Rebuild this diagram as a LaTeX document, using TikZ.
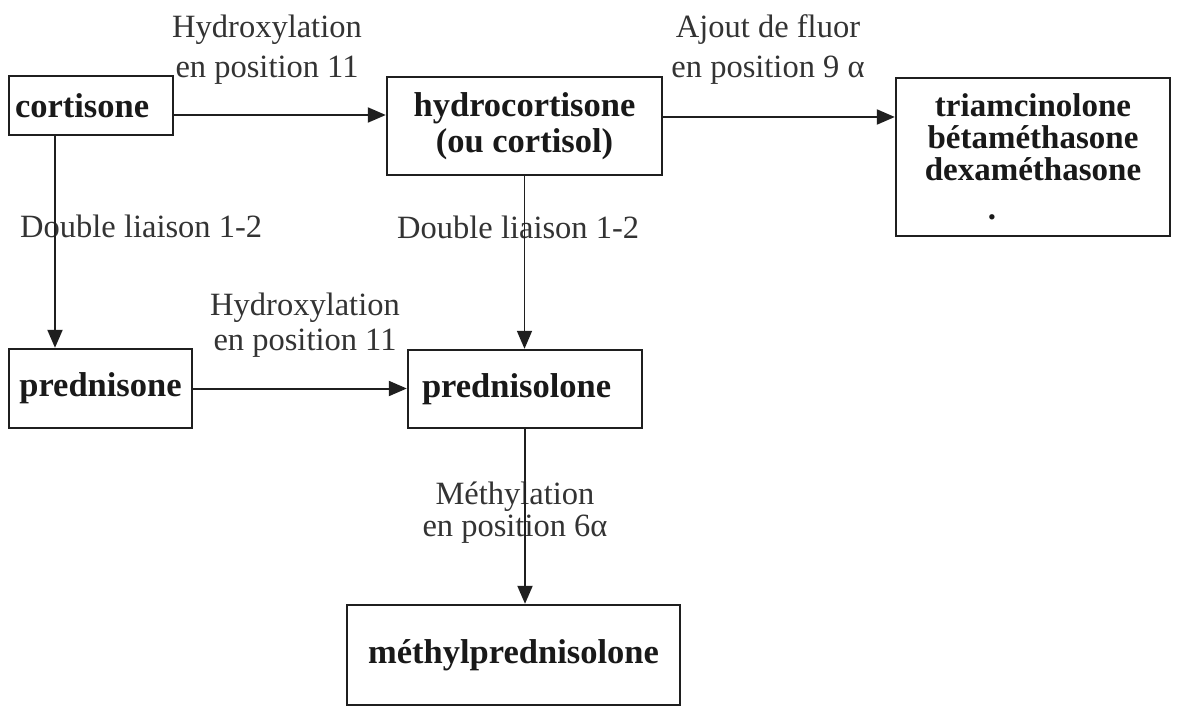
\documentclass[tikz,border=0pt]{standalone}
\usepackage{fontspec}
\setmainfont{Liberation Serif}
\usetikzlibrary{arrows.meta}
\begin{document}
\begin{tikzpicture}[x=1pt,y=-1pt,
  box/.style={draw=black!88, line width=2.4pt, inner sep=0pt,
    font=\fontsize{34.5}{35}\selectfont\bfseries, text=black!90},
  lbl/.style={inner sep=0pt, font=\fontsize{32.5}{40}\selectfont, text=black!80, align=center},
  conn/.style={draw=black!88, line width=2pt, -{Triangle[length=18pt,width=15pt]}}]
\useasboundingbox (0,0) rectangle (1190,722);
\fill[white] (0,0) rectangle (1190,722);

% boxes
\node[box, minimum width=164pt, minimum height=59pt, text width=152pt, align=left] (cortisone) at (91,105.5) {cortisone};
\node[box, minimum width=275pt, minimum height=98pt, align=center,
  font=\fontsize{34.5}{36}\selectfont\bfseries] (hydro) at (524.5,126) {hydrocortisone\\(ou cortisol)};
\node[box, minimum width=274pt, minimum height=158pt, align=center,
  font=\fontsize{33}{32}\selectfont\bfseries] (triam) at (1033,157)
  {triamcinolone\\bétaméthasone\\dexaméthasone\\[7pt]\makebox[0pt][r]{.\hspace*{37pt}}};
\node[box, minimum width=183pt, minimum height=79pt] (prednisone) at (100.5,388.5) {prednisone};
\node[box, minimum width=234pt, minimum height=78pt, text width=206pt, align=left] (prednisolone) at (525,389) {prednisolone};
\node[box, minimum width=333pt, minimum height=100pt] (methyl) at (513.5,655) {méthylprednisolone};

% labels
\node[lbl] (l1) at (267,50) {Hydroxylation\\en position 11};
\node[lbl] (l2) at (768,50) {Ajout de fluor\\en position 9 α};
\node[lbl, anchor=base west] (l3) at (20,237) {Double liaison 1-2};
\node[lbl, anchor=base west] (l4) at (397,238) {Double liaison 1-2};
\node[lbl, font=\fontsize{32.5}{35}\selectfont] (l5) at (305,325) {Hydroxylation\\en position 11};
\node[lbl, font=\fontsize{32.5}{32}\selectfont] (l6) at (515,513) {Méthylation\\en position 6α};

% connectors
\coordinate (yA) at (0,115);
\coordinate (yB) at (0,117);
\coordinate (xC) at (55,0);
\draw[conn] (cortisone.east |- yA) -- (hydro.west |- yA);
\draw[conn] (hydro.east |- yB) -- (triam.west |- yB);
\draw[conn] (cortisone.south -| xC) -- (prednisone.north -| xC);
\draw[conn, line width=1.6pt] (hydro.south) -- (hydro.south |- prednisolone.north);
\draw[conn] (prednisone.east) -- (prednisone.east -| prednisolone.west);
\draw[conn] (prednisolone.south) -- (prednisolone.south |- methyl.north);
\end{tikzpicture}
\end{document}
